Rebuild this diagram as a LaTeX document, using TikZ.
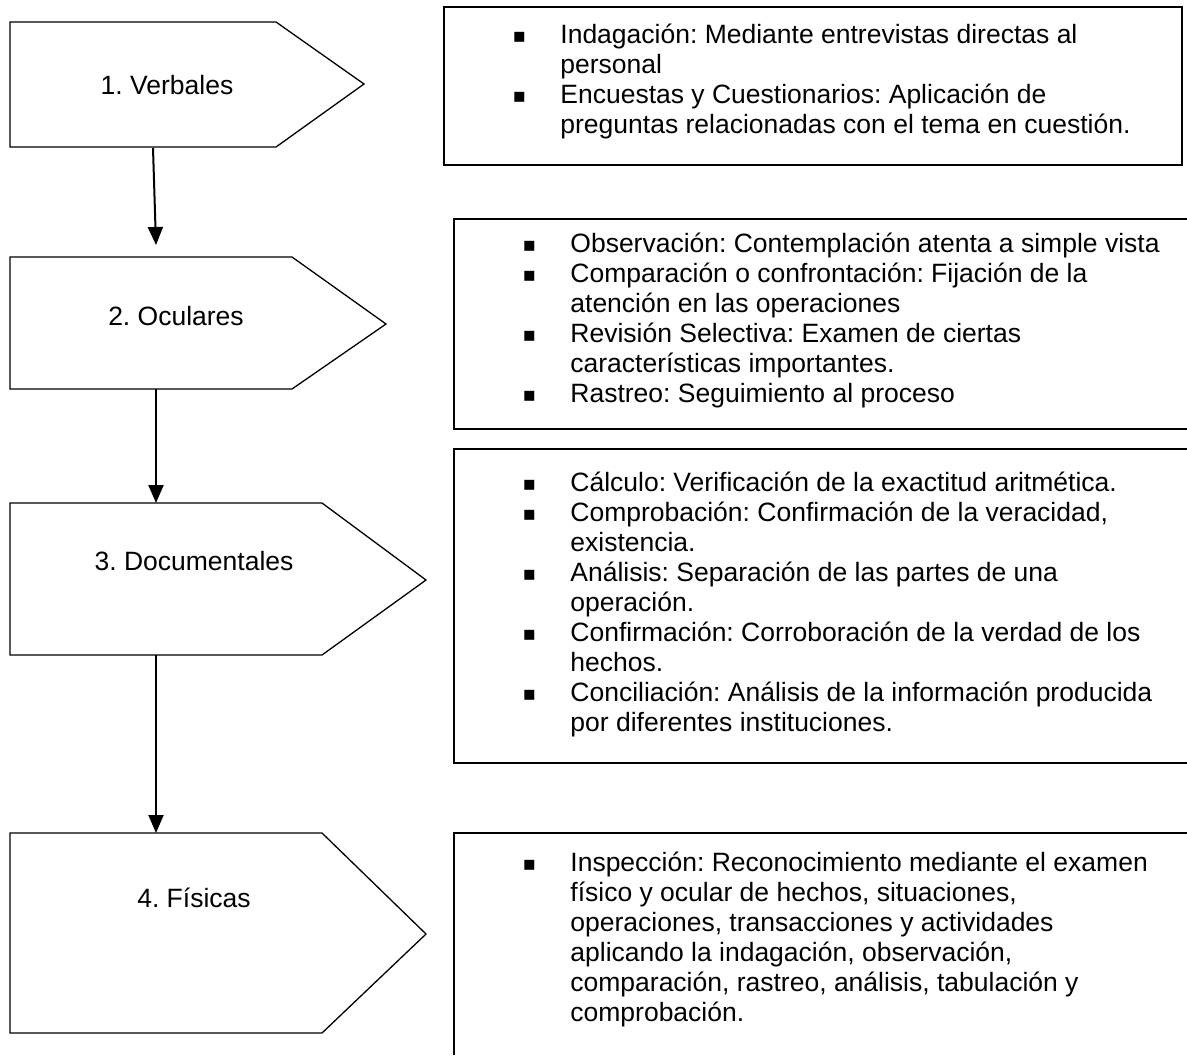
\documentclass[tikz,border=0pt]{standalone}
\usepackage{fontspec}
\setmainfont{Liberation Sans}
\newfontfamily\dvfont{DejaVu Sans}
\usetikzlibrary{arrows.meta}
\frenchspacing
\newlength\pxu \setlength\pxu{0.5pt}
\newcommand\bul{\llap{\makebox[41\pxu][l]{\makebox[0pt][c]{\raisebox{0.2pt}{\dvfont\fontsize{10}{10}\selectfont ▪}}}}}
\tikzset{
  pent/.style={draw, line width=0.65pt, line join=miter},
  boxline/.style={draw, line width=0.9pt, line join=miter},
  arr/.style={draw, line width=1pt, -{Triangle[length=9pt,width=7.5pt]}},
  ptxt/.style={inner sep=0pt, font=\frenchspacing\fontsize{13.25}{15}\selectfont},
  btxt/.style={inner sep=0pt, anchor=base west, font=\frenchspacing\fontsize{13.25}{15}\selectfont}
}
\begin{document}
\begin{tikzpicture}[x=0.5pt,y=-0.5pt]
\useasboundingbox (0,0) rectangle (1187,1055);
\fill[white] (0,0) rectangle (1187,1055);

% pentagons
\draw[pent] (10,22) -- (276,22) -- (364,84) -- (276,147) -- (10,147) -- cycle;
\draw[pent] (10,257) -- (292,257) -- (386,324) -- (292,389) -- (10,389) -- cycle;
\draw[pent] (10,503) -- (322,503) -- (426,580) -- (322,655) -- (10,655) -- cycle;
\draw[pent] (10,833) -- (322,833) -- (426,934) -- (322,1033) -- (10,1033) -- cycle;

\node[ptxt, anchor=base] (t1) at (167,94) {1. Verbales};
\node[ptxt, anchor=base] (t2) at (176,325) {2. Oculares};
\node[ptxt, anchor=base] (t3) at (194,570) {3. Documentales};
\node[ptxt, anchor=base] (t4) at (194,907) {4. Físicas};

% connector ends
\coordinate (p1b) at (153,148);
\coordinate (p2a) at (156,245);
\coordinate (p2b) at (156,389);
\coordinate (p3a) at (156,503);
\coordinate (p3b) at (156,655);
\coordinate (p4a) at (156,833);
\draw[arr] (p1b) -- (p2a);
\draw[arr] (p2b) -- (p3a);
\draw[arr] (p3b) -- (p4a);

% right boxes
\draw[boxline] (444,7) rectangle (1182,165);
\draw[boxline] (1187,219) -- (454,219) -- (454,429) -- (1187,429);
\draw[boxline] (1187,449) -- (454,449) -- (454,763) -- (1187,763);
\draw[boxline] (1187,833) -- (454,833) -- (454,1055);

\node[btxt] (b1) at (560,43) {\begin{tabular}[t]{@{}l@{}}
\bul Indagación: Mediante entrevistas directas al\\
personal\\
\bul Encuestas y Cuestionarios: Aplicación de\\
preguntas relacionadas con el tema en cuestión.
\end{tabular}};

\node[btxt] (b2) at (570,252) {\begin{tabular}[t]{@{}l@{}}
\bul Observación: Contemplación atenta a simple vista\\
\bul Comparación o confrontación: Fijación de la\\
atención en las operaciones\\
\bul Revisión Selectiva: Examen de ciertas\\
características importantes.\\
\bul Rastreo: Seguimiento al proceso
\end{tabular}};

\node[btxt] (b3) at (570,491) {\begin{tabular}[t]{@{}l@{}}
\bul Cálculo: Verificación de la exactitud aritmética.\\
\bul Comprobación: Confirmación de la veracidad,\\
existencia.\\
\bul Análisis: Separación de las partes de una\\
operación.\\
\bul Confirmación: Corroboración de la verdad de los\\
hechos.\\
\bul Conciliación: Análisis de la información producida\\
por diferentes instituciones.
\end{tabular}};

\node[btxt] (b4) at (570,871) {\begin{tabular}[t]{@{}l@{}}
\bul Inspección: Reconocimiento mediante el examen\\
físico y ocular de hechos, situaciones,\\
operaciones, transacciones y actividades\\
aplicando la indagación, observación,\\
comparación, rastreo, análisis, tabulación y\\
comprobación.
\end{tabular}};
\end{tikzpicture}
\end{document}
